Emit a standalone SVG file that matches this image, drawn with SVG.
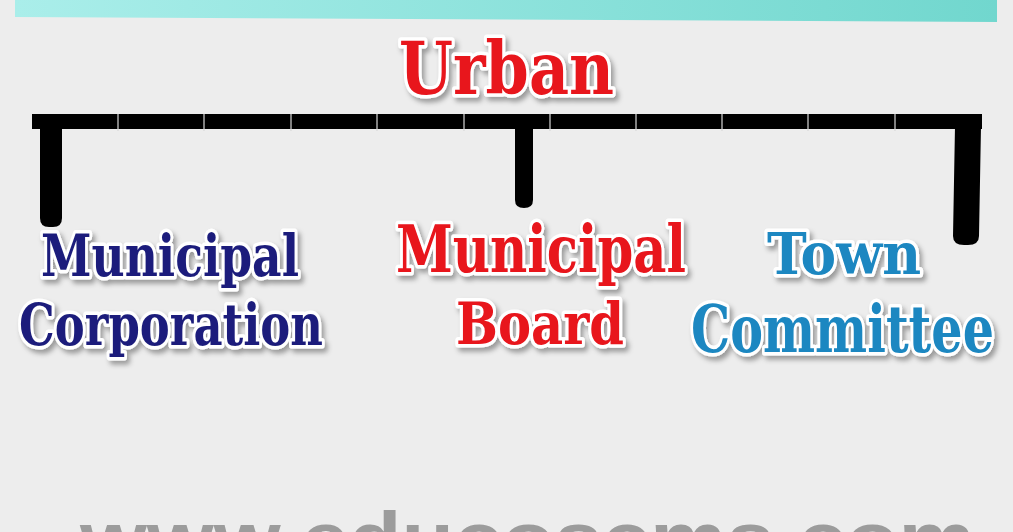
<svg xmlns="http://www.w3.org/2000/svg" width="1013" height="532" viewBox="0 0 1013 532">
  <defs>
    <linearGradient id="banner" x1="0" y1="0" x2="1" y2="0">
      <stop offset="0" stop-color="#aaeeea"/>
      <stop offset="1" stop-color="#71d7ce"/>
    </linearGradient>
    <filter id="shadow" x="-10%" y="-20%" width="120%" height="150%">
      <feDropShadow dx="3" dy="4" stdDeviation="2.5" flood-color="#000" flood-opacity="0.35"/>
    </filter>
    <style>
      .lbl { font-family: "DejaVu Serif", "Liberation Serif", serif; font-weight: bold; stroke: #ffffff; stroke-width: 7; stroke-linejoin: round; paint-order: stroke fill; filter: url(#shadow); }
      .red { fill: #e8121b; }
      .navy { fill: #1c1e7c; }
      .blue { fill: #1b87c1; }
      .sep { stroke: #d8d8d8; stroke-width: 1.2; }
      .leg { fill: #000000; }
      .wm { font-family: "Liberation Sans", Arial, sans-serif; font-weight: bold; fill: #9c9c9c; }
    </style>
  </defs>

  <rect width="1013" height="532" fill="#ededed"/>

  <!-- top banner -->
  <polygon points="15,0 997,0 997,22 15,17" fill="url(#banner)"/>

  <!-- connectors -->
  <g id="connectors">
    <rect x="32" y="114" width="950" height="15" fill="#000"/>
    <g class="sep">
      <line x1="118" y1="114" x2="118" y2="131"/>
      <line x1="204" y1="114" x2="204" y2="131"/>
      <line x1="291" y1="114" x2="291" y2="131"/>
      <line x1="377" y1="114" x2="377" y2="131"/>
      <line x1="464" y1="114" x2="464" y2="131"/>
      <line x1="550" y1="114" x2="550" y2="131"/>
      <line x1="636" y1="114" x2="636" y2="131"/>
      <line x1="722" y1="114" x2="722" y2="131"/>
      <line x1="808" y1="114" x2="808" y2="131"/>
      <line x1="895" y1="114" x2="895" y2="131"/>
    </g>
    <path class="leg" d="M40,126 H62 V218 Q62,227 53,227 H49 Q40,227 40,218 Z"/>
    <path class="leg" d="M515,126 H533 V200 Q533,208 524,208 Q515,208 515,200 Z"/>
    <path class="leg" d="M955,126 H981 L979,236 Q979,245 968,245 H964 Q953,245 953,236 Z"/>
  </g>

  <g id="node-urban">
    <text class="lbl red" x="399" y="94" font-size="72" textLength="215" lengthAdjust="spacingAndGlyphs">Urban</text>
  </g>

  <g id="node-municipal-corporation">
    <text class="lbl navy" x="41" y="276" font-size="58" textLength="258" lengthAdjust="spacingAndGlyphs">Municipal</text>
    <text class="lbl navy" x="19" y="345" font-size="57" textLength="304" lengthAdjust="spacingAndGlyphs">Corporation</text>
  </g>

  <g id="node-municipal-board">
    <text class="lbl red" x="396" y="272" font-size="65" textLength="290" lengthAdjust="spacingAndGlyphs">Municipal</text>
    <text class="lbl red" x="456" y="344" font-size="58" textLength="168" lengthAdjust="spacingAndGlyphs">Board</text>
  </g>

  <g id="node-town-committee">
    <text class="lbl blue" x="767" y="274" font-size="58" textLength="154" lengthAdjust="spacingAndGlyphs">Town</text>
    <text class="lbl blue" x="691" y="352" font-size="65" textLength="303" lengthAdjust="spacingAndGlyphs">Committee</text>
  </g>

  <!-- watermark (cut off at bottom) -->
  <text class="wm" x="80" y="564" font-size="75" textLength="895" lengthAdjust="spacingAndGlyphs">www.educoscms.com</text>
</svg>
